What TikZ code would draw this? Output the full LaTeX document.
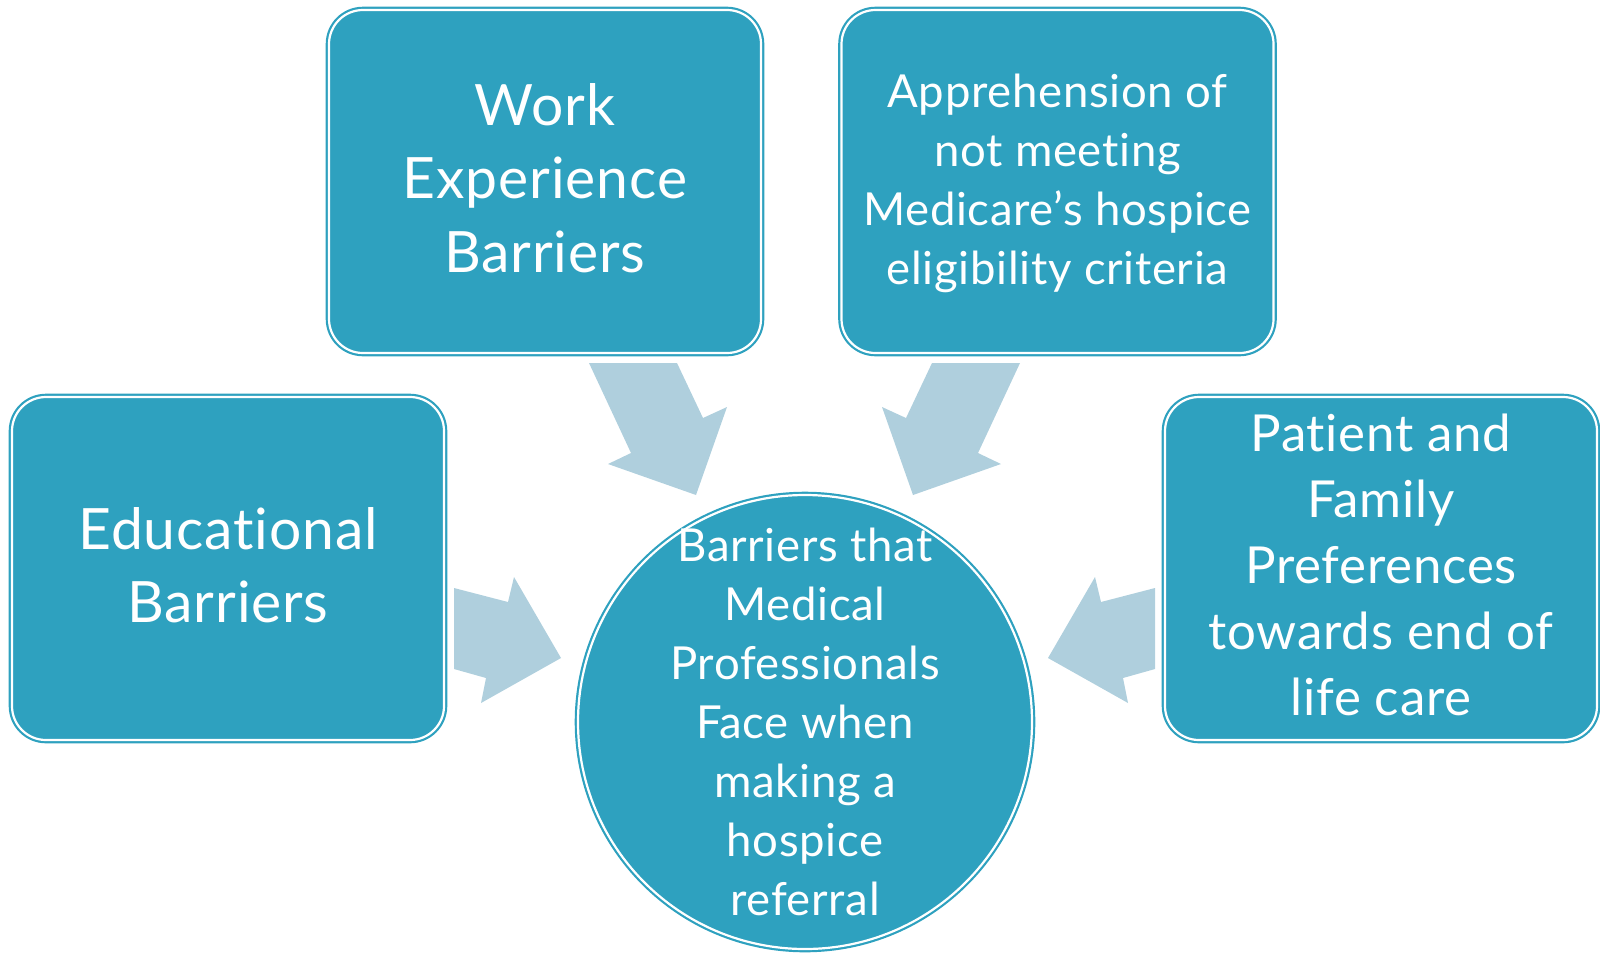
\documentclass[tikz,border=0pt]{standalone}
\usepackage{fontspec}
\setmainfont{Lato}[Ligatures=NoCommon, LetterSpace=1.5]
\definecolor{teal}{HTML}{2EA1BF}
\definecolor{arrowblue}{HTML}{AFCFDD}
\begin{document}
\begin{tikzpicture}[x=1pt,y=-1pt,
  box/.style={rectangle, rounded corners=34pt, fill=teal, draw=teal, line width=2.2pt, double=white, double distance=2.2pt, inner sep=0pt},
  bubble/.style={circle, fill=teal, draw=teal, line width=2.2pt, double=white, double distance=2.2pt, inner sep=0pt},
  txt/.style={text=white, align=center, inner sep=0pt, yshift=3.5pt},
  barrow/.style={fill=arrowblue, draw=none}]
\useasboundingbox (0,0) rectangle (1600,954);
% boxes
\node[box, minimum width=432pt, minimum height=343pt] (work) at (545,181.5) {};
\node[box, minimum width=432pt, minimum height=343pt] (appr) at (1057.5,181.5) {};
\node[box, minimum width=432pt, minimum height=343pt] (edu) at (228,568.5) {};
\node[box, minimum width=432pt, minimum height=343pt] (pat) at (1381,568.5) {};
\node[bubble, minimum size=454pt] (c) at (805,722) {};
% texts
\node[txt, font=\fontsize{57}{73.5}\selectfont] (workt) at (work.center) {Work\\Experience\\Barriers};
\node[txt, font=\fontsize{45.5}{59}\selectfont, yshift=-5pt] (apprt) at (appr.center) {Apprehension of\\not meeting\\Medicare’s hospice\\eligibility criteria};
\node[txt, font=\fontsize{57}{73.5}\selectfont] (edut) at (edu.center) {Educational\\Barriers};
\node[txt, font=\fontsize{51}{66}\selectfont] (patt) at (pat.center) {Patient and\\Family\\Preferences\\towards end of\\life care};
\node[txt, font=\fontsize{45.5}{59}\selectfont, yshift=-3pt] (ct) at (c.center) {Barriers that\\Medical\\Professionals\\Face when\\making a\\hospice\\referral};
% block arrows
\fill[barrow] (589,363) -- (677,363) -- (703,418) -- (727,407) -- (696,495) -- (608,464) -- (631,453) -- cycle;
\fill[barrow] (1020,363) -- (932,363) -- (906,418) -- (882,407) -- (913,495) -- (1001,464) -- (978,453) -- cycle;
\fill[barrow] (454,588) -- (508,602) -- (514,577) -- (561,658) -- (481,703) -- (486,678) -- (454,669) -- cycle;
\fill[barrow] (1155,588) -- (1101,602) -- (1095,577) -- (1048,658) -- (1128,703) -- (1123,678) -- (1155,669) -- cycle;
\end{tikzpicture}
\end{document}
